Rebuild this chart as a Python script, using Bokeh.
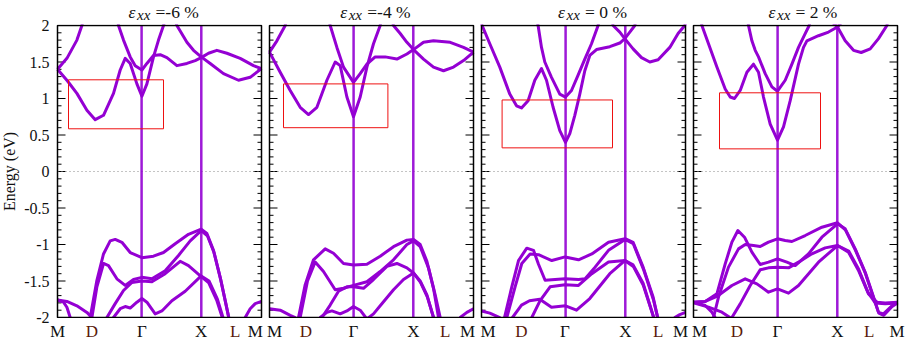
from bokeh.plotting import figure
from bokeh.models import Range1d, SingleIntervalTicker, CustomJSTickFormatter
from bokeh.layouts import row, column
from bokeh.embed import file_html
from bokeh.resources import INLINE
from bokeh.core.properties import value

# ---------------- data (k-path coordinate 0..204, energy in eV) ----------------
k_tick_labels = ["M", "D", "Γ", "X", "L", "M"]
k_ticks_m6 = [0, 34.4, 84.4, 143.7, 177.7, 197.7]
k_ticks_m4 = [5, 36.4, 84, 144, 175.7, 198]
k_ticks_0 = [6.5, 40, 83.3, 144, 176.6, 199]
k_ticks_p2 = [6, 43.4, 84, 144, 175.7, 203.5]
gamma_k = 84.1
x_k = 143.8
strain_texts = ["=-6 %", "=-4 %", "= 0 %", "= 2 %"]
title_k = [71, 70.7, 76.6, 75]
energy_major_ticks = [-2, -1.5, -1, -0.5, 0, 0.5, 1, 1.5, 2]

# red boxes: (k_left, k_right, e_bottom, e_top)
box_m6 = (11, 106, 0.585, 1.256)
box_m4 = (14, 118.4, 0.60, 1.20)
box_0 = (20.6, 131, 0.324, 0.98)
box_p2 = (26, 127, 0.31, 1.078)

# ---- strain -6 %
m6_c1 = [(0,1.40),(10,1.24),(19.4,1.07),(29.4,0.84),(37.7,0.71),(46,0.77),(56,1.07),(62.7,1.39),(67.7,1.55),(72.7,1.48),(79.4,1.20),(84.4,1.03),(89.4,1.20),(96,1.57),(101,1.80),(106,2.0),(108,2.1)]
m6_c2 = [(0,1.40),(9.4,1.55),(19.4,1.80),(24.4,2.0),(26,2.1)]
m6_c3 = [(60,2.1),(61,2.0),(66,1.80),(72.7,1.57),(77.7,1.45),(84.4,1.39),(89.4,1.48),(96,1.59),(102.7,1.60),(109.4,1.56),(119.4,1.45),(129.4,1.48),(137.7,1.52),(143.7,1.56),(151,1.62),(159.4,1.66),(169.4,1.62),(182.7,1.55),(196,1.45),(204,1.41)]
m6_c4 = [(117,2.1),(119.4,2.0),(129.4,1.77),(136,1.66),(143.7,1.57),(152.7,1.48),(166,1.34),(181,1.25),(192.7,1.29),(204,1.41)]
m6_v1 = [(30,-2.1),(32.7,-2.0),(39.4,-1.49),(46,-1.13),(52.7,-0.95),(57.7,-0.93),(64.4,-0.97),(72.7,-1.11),(84.4,-1.18),(96,-1.16),(106,-1.11),(117.7,-0.99),(131,-0.86),(143.7,-0.79),(149.4,-0.85),(156,-1.08),(162.7,-1.45),(167.7,-1.77),(172,-2.05)]
m6_v2 = [(33,-2.1),(34.4,-2.0),(39.4,-1.58),(46,-1.26),(51,-1.29),(59.4,-1.47),(67.7,-1.56),(76,-1.48),(84.4,-1.45),(94.4,-1.47),(107.7,-1.36),(121,-1.15),(132.7,-0.95),(143.7,-0.81),(149.9,-0.88),(156.5,-1.11),(163.2,-1.48),(168.2,-1.80),(172.5,-2.08)]
m6_v3 = [(48,-2.1),(49.4,-2.0),(57.7,-1.81),(66,-1.63),(74.4,-1.52),(84.4,-1.50),(94.4,-1.51),(107.7,-1.40),(122.7,-1.23),(131,-1.29),(143.7,-1.44),(151,-1.52),(159.4,-1.77),(165,-2.01),(166,-2.1)]
m6_v4 = [(54,-2.1),(56,-2.0),(62.7,-1.88),(67.7,-1.85),(72.7,-1.87),(79.4,-1.79),(84.4,-1.74),(89.4,-1.79),(97.7,-1.95),(104.4,-1.91),(114.4,-1.77),(127.7,-1.64),(143.7,-1.43),(151.5,-1.50),(159.9,-1.75),(165.5,-2.0),(166.5,-2.1)]
m6_e1 = [(0,-1.76),(9.4,-1.78),(19.4,-1.84),(29.4,-1.93),(34.4,-2.0),(36,-2.1)]
m6_e2 = [(0,-1.76),(6,-1.79),(9.4,-1.86),(12.7,-2.0),(13.5,-2.1)]
m6_e3 = [(186,-2.1),(187.7,-2.0),(192.7,-1.88),(197.7,-1.81),(204,-1.78)]

# ---- strain -4 %
m4_c1 = [(0,1.635),(10.7,1.36),(20.7,1.11),(30.7,0.88),(39,0.78),(47.4,0.88),(57.4,1.25),(65.7,1.50),(70.7,1.45),(77.4,1.02),(84,0.75),(90.7,1.02),(97.4,1.43),(104,1.75),(110.7,2.0),(112,2.1)]
m4_c2 = [(0,1.635),(7.4,1.79),(15.7,2.0),(17,2.1)]
m4_c3 = [(59,2.1),(60.7,2.0),(67.4,1.70),(74,1.43),(84,1.22),(90.7,1.34),(97.4,1.47),(105.7,1.57),(115.7,1.57),(127.4,1.54),(137.4,1.61),(144,1.67),(154,1.77),(164,1.79),(180.7,1.77),(194,1.70),(204,1.635)]
m4_c4 = [(122,2.1),(124,2.0),(130.7,1.89),(137.4,1.77),(144,1.67),(154,1.54),(164,1.43),(174,1.38),(184,1.43),(194,1.52),(204,1.635)]
m4_v1 = [(28,-2.1),(29,-2.0),(35.7,-1.55),(44,-1.21),(55.7,-1.06),(64,-1.12),(74,-1.26),(84,-1.28),(97.4,-1.27),(110.7,-1.16),(124,-1.03),(137.4,-0.94),(144,-0.93),(150.7,-1.0),(157.4,-1.23),(164,-1.60),(169,-2.0),(170,-2.1)]
m4_v2 = [(29.5,-2.1),(30.7,-2.0),(38,-1.50),(45.7,-1.24),(54,-1.37),(65.7,-1.62),(74,-1.60),(84,-1.56),(97.4,-1.51),(110.7,-1.37),(124,-1.21),(137.4,-1.0),(144,-0.95),(150.7,-1.03),(159,-1.32),(165.7,-1.69),(170.7,-2.0),(171.5,-2.1)]
m4_v3 = [(51,-2.1),(52.4,-2.0),(60.7,-1.83),(69,-1.64),(77.4,-1.58),(84,-1.58),(94,-1.60),(104,-1.48),(117.4,-1.30),(127.4,-1.26),(137.4,-1.32),(144,-1.39),(150.7,-1.50),(157.4,-1.69),(164,-2.0),(165,-2.1)]
m4_v4 = [(49,-2.1),(50.7,-2.0),(57.4,-1.93),(62.4,-1.91),(70.7,-1.95),(77.4,-1.91),(84,-1.85),(90.7,-1.90),(97.4,-2.02),(104,-1.95),(110.7,-1.84),(124,-1.62),(134,-1.48),(144,-1.39),(151,-1.52),(157.9,-1.72),(164.5,-2.02),(165.5,-2.1)]
m4_e1 = [(0,-1.88),(10.7,-1.90),(20.7,-1.97),(25.7,-2.0),(27,-2.1)]
m4_e2 = [(189,-2.1),(190.7,-2.0),(197.4,-1.93),(204,-1.88)]

# ---- strain 0 %
z_c1 = [(0,2.02),(8.3,1.75),(18.3,1.43),(28.3,1.06),(35,0.90),(40,0.87),(46.6,0.97),(53.3,1.25),(60,1.41),(65,1.25),(71.6,0.88),(78.3,0.56),(84,0.40),(88.3,0.52),(93.3,0.77),(98.3,1.06),(103.3,1.38),(108.3,1.59),(115,1.67),(128.3,1.71),(138.3,1.76),(143.3,1.82),(148.3,1.91),(153.3,2.0),(155,2.1)]
z_c2 = [(55,2.1),(56.6,2.0),(60,1.70),(63.3,1.50),(70,1.29),(78.3,1.06),(84,1.02),(90,1.11),(96.6,1.32),(103.3,1.54),(110,1.75),(116.6,2.0),(118,2.1)]
z_c3 = [(130,2.1),(131.6,2.0),(138.3,1.91),(143.3,1.82),(151.6,1.68),(160,1.56),(168.3,1.50),(176.6,1.53),(188.3,1.70),(196.6,1.89),(203.3,2.0),(204,2.03)]
z_v1 = [(24.5,-2.1),(25.3,-2.0),(33.6,-1.58),(40.3,-1.26),(48.6,-1.13),(57,-1.14),(70.3,-1.22),(83.6,-1.17),(97,-1.21),(110.3,-1.13),(127,-0.97),(143.6,-0.92),(151.6,-0.97),(161.6,-1.31),(171.6,-1.72),(177,-2.05)]
z_v2 = [(22,-2.1),(23,-2.0),(30.3,-1.58),(37,-1.22),(45.3,-1.05),(52,-1.08),(57,-1.27),(63.6,-1.49),(73.6,-1.48),(83.6,-1.47),(97,-1.48),(103.6,-1.47),(113.6,-1.31),(127,-1.08),(143.6,-0.93),(151.8,-0.99),(162,-1.34),(172,-1.76),(177.5,-2.08)]
z_v3 = [(49,-2.1),(50.3,-2.0),(58.6,-1.77),(68.6,-1.58),(83.6,-1.55),(97,-1.56),(110.3,-1.40),(127,-1.24),(143.6,-1.22),(151.6,-1.28),(161.6,-1.53),(170,-1.9),(174,-2.08)]
z_v4 = [(28,-2.1),(31,-2.0),(40,-1.83),(48,-1.77),(58.3,-1.75),(70,-1.86),(84,-1.84),(95,-1.90),(108.3,-1.74),(128.3,-1.40),(143.3,-1.22),(151.8,-1.30),(161.8,-1.56),(170.3,-1.92),(174.5,-2.1)]
z_e1 = [(0,-1.91),(8.3,-1.94),(18.3,-2.0),(20,-2.1)]
z_e2 = [(191.5,-2.1),(193.3,-2.0),(198.3,-1.96),(204,-1.93)]

# ---- strain 2 %
p2_c1 = [(7,2.1),(8.4,2.0),(15,1.75),(23.4,1.43),(31.7,1.13),(36.7,1.02),(41,1.0),(46.7,1.11),(53.4,1.36),(60,1.47),(65,1.36),(70,1.02),(76.7,0.65),(84,0.43),(90,0.61),(96.7,0.97),(105,1.47),(110,1.70),(113.4,1.79),(125,1.86),(135,1.91),(144,1.98),(148.4,2.05)]
p2_c2 = [(54,2.1),(55,2.0),(58.4,1.79),(61.7,1.66),(65,1.57),(71.7,1.34),(78.4,1.16),(84,1.10),(91.7,1.25),(98.4,1.47),(105,1.70),(111.7,1.89),(115.7,2.0),(117,2.1)]
p2_c3 = [(138.4,2.05),(144,1.98),(151.7,1.79),(160,1.66),(167.7,1.63),(176.7,1.68),(185,1.82),(193.4,2.0),(195,2.1)]
p2_v1 = [(0,-1.79),(11.7,-1.78),(23.4,-1.676),(31.7,-1.265),(38.4,-0.968),(44.4,-0.808),(51,-0.90),(58.4,-1.105),(66.7,-1.274),(75,-1.242),(84,-1.196),(93.4,-1.242),(101.7,-1.288),(115,-1.128),(128.4,-0.90),(144,-0.717),(151.7,-0.785),(161.7,-1.06),(171.7,-1.38),(180,-1.72),(185,-1.93),(190,-1.95),(198.4,-1.84),(204,-1.79)]
p2_v2 = [(18,-2.1),(20,-2.0),(25,-1.72),(35,-1.31),(45,-1.06),(51.7,-1.0),(60,-1.014),(66.7,-1.027),(75,-0.968),(84,-0.922),(91.7,-0.945),(98.4,-0.959),(111.7,-0.877),(128.4,-0.763),(144,-0.703),(151.9,-0.80),(162,-1.08),(172,-1.40),(180.3,-1.74),(185.3,-1.94),(190.3,-1.97),(198.6,-1.85),(204,-1.80)]
p2_v3 = [(36,-2.1),(38.4,-2.0),(46.7,-1.813),(56.7,-1.562),(66.7,-1.347),(75,-1.32),(84,-1.31),(95,-1.32),(105,-1.242),(118.4,-1.128),(131.7,-1.046),(144,-1.014),(155,-1.105),(165,-1.356),(175,-1.676),(183.4,-1.79),(191.7,-1.80),(204,-1.79)]
p2_v4 = [(0,-1.79),(11.7,-1.78),(23.4,-1.712),(38.4,-1.562),(51.7,-1.47),(63.4,-1.539),(75,-1.653),(84,-1.607),(95,-1.666),(105,-1.562),(125,-1.242),(144,-1.014),(155.2,-1.09),(165.2,-1.34),(174.4,-1.653),(181.7,-1.80),(191.7,-1.81),(204,-1.80)]
p2_e1 = [(0,-1.79),(11.7,-1.836),(18.4,-1.927),(22.4,-2.018)]
p2_e2 = [(0,-1.80),(15,-1.858),(28.4,-1.927),(38.4,-2.018)]

panel_bands = [
    [m6_c1, m6_c2, m6_c3, m6_c4, m6_v1, m6_v2, m6_v3, m6_v4, m6_e1, m6_e2, m6_e3],
    [m4_c1, m4_c2, m4_c3, m4_c4, m4_v1, m4_v2, m4_v3, m4_v4, m4_e1, m4_e2],
    [z_c1, z_c2, z_c3, z_v1, z_v2, z_v3, z_v4, z_e1, z_e2],
    [p2_c1, p2_c2, p2_c3, p2_v1, p2_v2, p2_v3, p2_v4, p2_e1, p2_e2],
]
panel_boxes = [box_m6, box_m4, box_0, box_p2]
panel_kticks = [k_ticks_m6, k_ticks_m4, k_ticks_0, k_ticks_p2]

# ---------------- styling ----------------
BAND = "#9400D3"
SERIF = "Liberation Serif"
TXT = "#111111"
KCOL = {"D": "#5a1a0a", "L": "#5a1a0a"}
FRAME_W = 204          # 1 k-unit == 1 px
BOX_H = 292            # px for 4 eV
PAD = 4.0 / BOX_H      # one pixel of energy above/below the box
AXIS_W = 50
LEFTS = [7, 4, 4, 4]
RIGHTS = [4, 4, 4, 8]
TITLE_H = 24
LABEL_H = 30
MAJ_LEN, MIN_LEN = 8, 4

minor_ticks = [round(-2 + 0.1 * j, 1) for j in range(41) if j % 5 != 0]


def strip(p):
    p.grid.visible = False
    p.outline_line_color = None
    p.background_fill_color = "white"
    p.border_fill_color = "white"


def base_fig(i, height, y_range):
    left, right = LEFTS[i], RIGHTS[i]
    f = figure(width=left + FRAME_W + right, height=height,
               x_range=Range1d(-left, FRAME_W + right), y_range=y_range,
               output_backend="svg", toolbar_location=None,
               x_axis_type=None, y_axis_type=None,
               min_border_left=0, min_border_right=0, min_border_top=0, min_border_bottom=0)
    strip(f)
    return f


def make_title(i):
    f = base_fig(i, TITLE_H, Range1d(0, TITLE_H))
    tk = title_k[i]
    f.text(x=[tk], y=[12.6], text=["ε"], text_font=value(SERIF), text_font_style="italic",
           text_font_size="17.5px", text_baseline="middle", text_color=TXT)
    f.text(x=[tk + 8.5], y=[9.8], text=["xx"], text_font=value(SERIF), text_font_style="italic",
           text_font_size="15px", text_baseline="middle", text_color=TXT)
    f.text(x=[tk + 27], y=[12.6], text=[strain_texts[i]], text_font=value(SERIF),
           text_font_size="17.5px", text_baseline="middle", text_color=TXT)
    return f


def make_klabels(i):
    f = base_fig(i, LABEL_H, Range1d(0, LABEL_H))
    ks = panel_kticks[i]
    f.text(x=ks, y=[17.2] * len(ks), text=k_tick_labels, text_font=value(SERIF),
           text_font_size="17px", text_align="center", text_baseline="middle",
           text_color=[KCOL.get(l, TXT) for l in k_tick_labels])
    return f


def make_energy_axis():
    a = figure(width=AXIS_W, height=TITLE_H + BOX_H + 2 + LABEL_H,
               x_range=Range1d(0, 1), y_range=Range1d(-2 - PAD, 2 + PAD),
               output_backend="svg", toolbar_location=None,
               min_border_left=AXIS_W - 1, min_border_right=0,
               min_border_top=TITLE_H, min_border_bottom=LABEL_H)
    strip(a)
    a.xaxis.visible = False
    ax = a.yaxis[0]
    ax.ticker = SingleIntervalTicker(interval=0.5, num_minor_ticks=5)
    ax.major_tick_in = 0
    ax.major_tick_out = 0
    ax.minor_tick_in = 0
    ax.minor_tick_out = 0
    ax.axis_line_color = None
    ax.formatter = CustomJSTickFormatter(code="return String(Math.round(tick*10)/10);")
    ax.major_label_text_font = SERIF
    ax.major_label_text_font_size = "16px"
    ax.major_label_text_color = TXT
    ax.major_label_standoff = 1
    ax.axis_label = "Energy (eV)"
    ax.axis_label_text_font = SERIF
    ax.axis_label_text_font_size = "16px"
    ax.axis_label_text_font_style = "normal"
    ax.axis_label_text_color = TXT
    ax.axis_label_standoff = 3
    return a


def make_panel(i):
    p = base_fig(i, BOX_H + 2, Range1d(-2 - PAD, 2 + PAD))

    # inward ticks on both edges
    for edge, sgn in ((0, 1), (FRAME_W, -1)):
        p.segment(x0=[edge] * len(energy_major_ticks), y0=energy_major_ticks,
                  x1=[edge + sgn * MAJ_LEN] * len(energy_major_ticks), y1=energy_major_ticks,
                  line_color="black", line_width=1)
        p.segment(x0=[edge] * len(minor_ticks), y0=minor_ticks,
                  x1=[edge + sgn * MIN_LEN] * len(minor_ticks), y1=minor_ticks,
                  line_color="black", line_width=1)

    # zero line and high-symmetry verticals
    p.segment(x0=[0], y0=[0], x1=[FRAME_W], y1=[0], line_color="#888888",
              line_dash="1 3", line_width=1)
    p.segment(x0=[gamma_k, x_k], y0=[-2, -2], x1=[gamma_k, x_k], y1=[2, 2],
              line_color=BAND, line_width=2.5, line_alpha=0.9)

    for band in panel_bands[i]:
        p.line([b[0] for b in band], [b[1] for b in band],
               line_color=BAND, line_width=3, line_join="round", line_cap="butt")

    bx = panel_boxes[i]
    p.quad(left=[bx[0]], right=[bx[1]], bottom=[bx[2]], top=[bx[3]],
           fill_color=None, line_color="#ee1111", line_width=1)

    # frame box
    p.quad(left=[0], right=[FRAME_W], bottom=[-2], top=[2], fill_color=None,
           line_color="black", line_width=1.5)
    return p


axis_fig = make_energy_axis()
cols = [column(make_title(i), make_panel(i), make_klabels(i)) for i in range(4)]
layout = row(axis_fig, *cols)
open("out.html", "w").write(file_html(layout, INLINE))
